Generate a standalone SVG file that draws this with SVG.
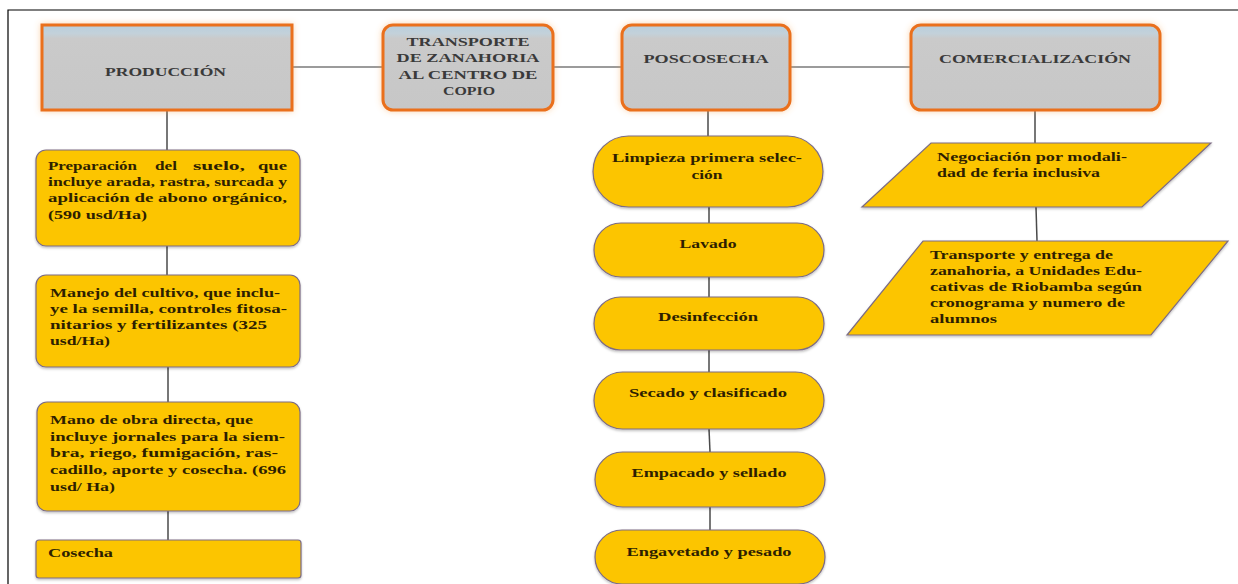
<svg xmlns="http://www.w3.org/2000/svg" width="1238" height="584" viewBox="0 0 1238 584">
<defs>
<linearGradient id="gh" x1="0" y1="0" x2="0" y2="1">
<stop offset="0" stop-color="#b9cfdd"/>
<stop offset="0.1" stop-color="#c3d1da"/>
<stop offset="0.16" stop-color="#cacaca"/>
<stop offset="1" stop-color="#c7c7c7"/>
</linearGradient>
<filter id="glow" x="-10%" y="-20%" width="120%" height="140%">
<feDropShadow dx="0" dy="0" stdDeviation="3" flood-color="#f5a050" flood-opacity="0.45"/>
</filter>
<filter id="sh" x="-5%" y="-10%" width="110%" height="125%">
<feDropShadow dx="0" dy="1.5" stdDeviation="1.2" flood-color="#000" flood-opacity="0.25"/>
</filter>
</defs>
<style>
.hdr{fill:url(#gh);stroke:#ea6f1c;stroke-width:3}
.ht{font-family:"Liberation Serif",serif;font-weight:bold;font-size:13px;fill:#3a3a3a}
.y{fill:#fcc500;stroke:#7c6c84;stroke-width:1.2}
.bt{font-family:"Liberation Serif",serif;font-weight:bold;font-size:13.5px;fill:#2e1f00}
.c{stroke:#4a4a4a;stroke-width:1.5;fill:none}
.ch{stroke:#7a7a7a;stroke-width:1.5;fill:none}
.frame{stroke:#000;stroke-width:1.2;fill:none}
</style>
<rect width="1238" height="584" fill="#fff"/>
<path class="frame" d="M8,584 V10 H1238"/>

<g id="connectors">
<line class="ch" x1="292" y1="67" x2="383" y2="67"/>
<line class="ch" x1="553" y1="67" x2="622" y2="67"/>
<line class="ch" x1="790" y1="67" x2="911" y2="67"/>
<line class="c" x1="167" y1="110" x2="167" y2="150"/>
<line class="c" x1="167" y1="246" x2="167" y2="275"/>
<line class="c" x1="168" y1="367" x2="168" y2="402"/>
<line class="c" x1="168" y1="511" x2="168" y2="540"/>
<line class="c" x1="708" y1="110" x2="708" y2="136"/>
<line class="c" x1="709" y1="207" x2="709" y2="223"/>
<line class="c" x1="709" y1="277" x2="709" y2="297"/>
<line class="c" x1="709" y1="350" x2="709" y2="372"/>
<line class="c" x1="709" y1="429" x2="710" y2="452"/>
<line class="c" x1="710" y1="507" x2="710" y2="530"/>
<line class="c" x1="1035" y1="110" x2="1035" y2="143"/>
<line class="c" x1="1036" y1="207" x2="1037" y2="241"/>
</g>

<g id="produccion">
<rect class="hdr" filter="url(#glow)" x="42" y="25" width="250" height="85"/>
<text class="ht" x="105" y="76" textLength="121" lengthAdjust="spacingAndGlyphs">PRODUCCIÓN</text>
</g>
<g id="transporte">
<rect class="hdr" filter="url(#glow)" x="383" y="25" width="170" height="85" rx="10"/>
<text class="ht" x="468" y="46" text-anchor="middle" textLength="123" lengthAdjust="spacingAndGlyphs">TRANSPORTE</text>
<text class="ht" x="468" y="62" text-anchor="middle" textLength="143" lengthAdjust="spacingAndGlyphs">DE ZANAHORIA</text>
<text class="ht" x="468" y="79" text-anchor="middle" textLength="139" lengthAdjust="spacingAndGlyphs">AL CENTRO DE</text>
<text class="ht" x="469" y="95" text-anchor="middle" textLength="52" lengthAdjust="spacingAndGlyphs">COPIO</text>
</g>
<g id="poscosecha">
<rect class="hdr" filter="url(#glow)" x="622" y="25" width="168" height="85" rx="10"/>
<text class="ht" x="706" y="63" text-anchor="middle" textLength="125" lengthAdjust="spacingAndGlyphs">POSCOSECHA</text>
</g>
<g id="comercializacion">
<rect class="hdr" filter="url(#glow)" x="911" y="25" width="249" height="85" rx="10"/>
<text class="ht" x="1035" y="63" text-anchor="middle" textLength="192" lengthAdjust="spacingAndGlyphs">COMERCIALIZACIÓN</text>
</g>

<g id="prep-suelo">
<rect class="y" filter="url(#sh)" x="36" y="150" width="264" height="96" rx="10"/>
<text class="bt" x="48" y="170" textLength="89" lengthAdjust="spacingAndGlyphs">Preparación</text>
<text class="bt" x="155" y="170" textLength="22" lengthAdjust="spacingAndGlyphs">del</text>
<text class="bt" x="193" y="170" textLength="52" lengthAdjust="spacingAndGlyphs">suelo,</text>
<text class="bt" x="258" y="170" textLength="29" lengthAdjust="spacingAndGlyphs">que</text>
<text class="bt" x="48" y="186" textLength="239" lengthAdjust="spacingAndGlyphs">incluye arada, rastra, surcada y</text>
<text class="bt" x="48" y="202" textLength="239" lengthAdjust="spacingAndGlyphs">aplicación de abono  orgánico,</text>
<text class="bt" x="48" y="219" textLength="99" lengthAdjust="spacingAndGlyphs">(590 usd/Ha)</text>
</g>
<g id="manejo-cultivo">
<rect class="y" filter="url(#sh)" x="36" y="275" width="264" height="92" rx="10"/>
<text class="bt" x="50" y="297" textLength="230" lengthAdjust="spacingAndGlyphs">Manejo del cultivo, que inclu-</text>
<text class="bt" x="50" y="313" textLength="237" lengthAdjust="spacingAndGlyphs">ye  la semilla, controles fitosa-</text>
<text class="bt" x="50" y="329" textLength="217" lengthAdjust="spacingAndGlyphs">nitarios y fertilizantes (325</text>
<text class="bt" x="50" y="345" textLength="60" lengthAdjust="spacingAndGlyphs">usd/Ha)</text>
</g>
<g id="mano-obra">
<rect class="y" filter="url(#sh)" x="37" y="402" width="263" height="109" rx="10"/>
<text class="bt" x="50" y="424" textLength="203" lengthAdjust="spacingAndGlyphs">Mano de obra directa, que</text>
<text class="bt" x="50" y="441" textLength="235" lengthAdjust="spacingAndGlyphs">incluye jornales para la siem-</text>
<text class="bt" x="50" y="457" textLength="228" lengthAdjust="spacingAndGlyphs">bra, riego, fumigación,  ras-</text>
<text class="bt" x="50" y="474" textLength="236" lengthAdjust="spacingAndGlyphs">cadillo, aporte y cosecha. (696</text>
<text class="bt" x="50" y="491" textLength="65" lengthAdjust="spacingAndGlyphs">usd/ Ha)</text>
</g>
<g id="cosecha">
<rect class="y" filter="url(#sh)" x="36" y="540" width="265" height="38" rx="3"/>
<text class="bt" x="48" y="557" textLength="65" lengthAdjust="spacingAndGlyphs">Cosecha</text>
</g>

<g id="limpieza">
<rect class="y" filter="url(#sh)" x="593" y="136" width="230" height="71" rx="35.5"/>
<text class="bt" x="707" y="162" text-anchor="middle" textLength="190" lengthAdjust="spacingAndGlyphs">Limpieza primera selec-</text>
<text class="bt" x="707" y="179" text-anchor="middle" textLength="31" lengthAdjust="spacingAndGlyphs">ción</text>
</g>
<g id="lavado">
<rect class="y" filter="url(#sh)" x="594" y="223" width="230" height="54" rx="27"/>
<text class="bt" x="708" y="248" text-anchor="middle" textLength="57" lengthAdjust="spacingAndGlyphs">Lavado</text>
</g>
<g id="desinfeccion">
<rect class="y" filter="url(#sh)" x="594" y="297" width="230" height="53" rx="26.5"/>
<text class="bt" x="708" y="321" text-anchor="middle" textLength="100" lengthAdjust="spacingAndGlyphs">Desinfección</text>
</g>
<g id="secado">
<rect class="y" filter="url(#sh)" x="594" y="372" width="230" height="57" rx="28.5"/>
<text class="bt" x="708" y="397" text-anchor="middle" textLength="158" lengthAdjust="spacingAndGlyphs">Secado y clasificado</text>
</g>
<g id="empacado">
<rect class="y" filter="url(#sh)" x="595" y="452" width="230" height="55" rx="27.5"/>
<text class="bt" x="709" y="477" text-anchor="middle" textLength="155" lengthAdjust="spacingAndGlyphs">Empacado y sellado</text>
</g>
<g id="engavetado">
<rect class="y" filter="url(#sh)" x="595" y="530" width="230" height="54" rx="27"/>
<text class="bt" x="709" y="556" text-anchor="middle" textLength="165" lengthAdjust="spacingAndGlyphs">Engavetado y pesado</text>
</g>

<g id="negociacion">
<polygon class="y" filter="url(#sh)" points="931,143 1211,143 1142,207 862,207"/>
<text class="bt" x="937" y="161" textLength="190" lengthAdjust="spacingAndGlyphs">Negociación por modali-</text>
<text class="bt" x="937" y="177" textLength="163" lengthAdjust="spacingAndGlyphs">dad de feria inclusiva</text>
</g>
<g id="transporte-entrega">
<polygon class="y" filter="url(#sh)" points="923,241 1228,241 1151,335 847,335"/>
<text class="bt" x="930" y="259" textLength="183" lengthAdjust="spacingAndGlyphs">Transporte y entrega de</text>
<text class="bt" x="930" y="275" textLength="212" lengthAdjust="spacingAndGlyphs">zanahoria, a Unidades Edu-</text>
<text class="bt" x="930" y="291" textLength="212" lengthAdjust="spacingAndGlyphs">cativas de Riobamba según</text>
<text class="bt" x="930" y="307" textLength="195" lengthAdjust="spacingAndGlyphs">cronograma y  numero de</text>
<text class="bt" x="930" y="323" textLength="67" lengthAdjust="spacingAndGlyphs">alumnos</text>
</g>
</svg>
